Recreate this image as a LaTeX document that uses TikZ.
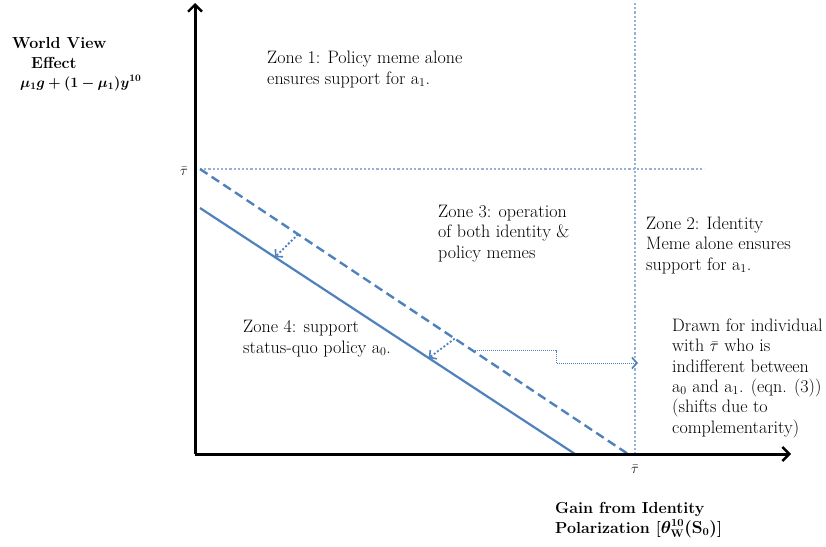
\documentclass[tikz,border=0pt]{standalone}
\usepackage{amsmath,bm}
\usetikzlibrary{arrows.meta,calc}
\definecolor{lblue}{HTML}{4F81BD}
\definecolor{dblue}{HTML}{95B3D7}
\tikzset{
  txt/.style={font=\fontsize{18}{20.3}\selectfont, align=left, anchor=base west, inner sep=0pt},
  btxt/.style={font=\fontsize{16}{20}\selectfont\bfseries, anchor=base west, inner sep=0pt},
  fml/.style={font=\fontsize{14.5}{16}\selectfont, anchor=base west, inner sep=0pt},
  axis/.style={line width=3pt, -{Straight Barb[length=7pt,width=14pt,line width=2.4pt]}},
  guide/.style={dblue, line width=2.6pt, dash pattern=on 2.2pt off 2pt},
  solidline/.style={lblue, line width=2.2pt},
  dashline/.style={lblue, line width=2.4pt, dash pattern=on 9pt off 5pt},
  shiftarrow/.style={lblue, line width=1.8pt, dash pattern=on 2pt off 2pt, -{Straight Barb[length=5pt,width=11pt,line width=1.6pt]}},
  elbow/.style={lblue, line width=1pt, dash pattern=on 1pt off 1pt, -{Straight Barb[length=5pt,width=11pt,line width=1.6pt]}},
  mathlbl/.style={font=\fontsize{15}{18}\selectfont, inner sep=0pt}
}
\begin{document}
\begin{tikzpicture}[x=1pt,y=-1pt]
\useasboundingbox (0,0) rectangle (826,546);
% axes
\coordinate (O) at (195,454);
\coordinate (ytop) at (195,3);
\coordinate (xend) at (791,454);
% guide lines
\coordinate (hl) at (200,169);
\coordinate (hr) at (704,169);
\coordinate (vt) at (635,3);
\coordinate (vb) at (635,454);
\draw[guide] (hl) -- (hr);
\draw[guide] (vt) -- (vb);
% indifference lines
\coordinate (d1) at (200,169);
\coordinate (d2) at (628,454);
\coordinate (s1) at (200,208);
\coordinate (s2) at (575,454);
\draw[solidline] (s1) -- (s2);
\draw[dashline] (d1) -- (d2);
\draw[axis] (O) -- (ytop);
\draw[axis] (O) -- (xend);
% shift arrows
\coordinate (a1s) at ($(d1)!0.229!(d2)$);
\coordinate (a1e) at ($(s1)!0.2!(s2)$);
\draw[shiftarrow] (a1s) -- (a1e);
\coordinate (a2s) at ($(d1)!0.595!(d2)$);
\coordinate (a2e) at ($(s1)!0.61!(s2)$);
\draw[shiftarrow] (a2s) -- (a2e);
% elbow connector
\coordinate (e1) at ($(d1)!0.638!(d2)$);
\coordinate (e2) at (556,363);
\coordinate (e3) at (638,363);
\draw[elbow] (e1) -| (e2) -- (e3);
% tau labels
\node[mathlbl] (tauy) at (184,171) {$\bar{\tau}$};
\node[mathlbl] (taux) at (635,469) {$\bar{\tau}$};
% y-axis title
\node[btxt] (wv) at (12,48) {World View};
\node[btxt] (eff) at (31,68) {Effect};
\node[fml] (formula) at (20,87) {$\bm{\mu_1 g+(1-\mu_1)y^{10}}$};
% zones (anchor = baseline of last line)
\node[txt] (z1) at (267,84) {Zone 1: Policy meme alone\\ensures support for a$_1$.};
\node[txt] (z3) at (438,258) {Zone 3: operation\\of both identity \&\\policy memes};
\node[txt] (z2) at (646,270) {Zone 2: Identity\\Meme alone ensures\\support for a$_1$.};
\node[txt] (z4) at (243,353) {Zone 4: support\\status-quo policy a$_0$.};
\node[txt] (drawn) at (672,433) {Drawn for individual\\with $\bar{\tau}$ who is\\indifferent between\\a$_0$ and a$_1$. (eqn. (3))\\(shifts due to\\complementarity)};
% x-axis title
\node[btxt, align=left] (gain) at (555,533) {Gain from Identity\\Polarization [$\bm{\theta^{10}_{\mathbf{W}}(\mathbf{S}_{\mathbf{0}})}$]};
\end{tikzpicture}
\end{document}
